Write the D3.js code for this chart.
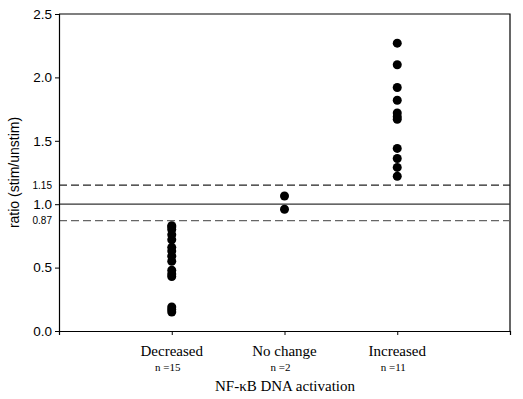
<!DOCTYPE html>
<html>
<head>
<meta charset="utf-8">
<script src="https://cdn.jsdelivr.net/npm/d3@7"></script>
<style>
  body { margin: 0; background: #fff; }
</style>
</head>
<body>
<div id="chart"></div>
<script>
// data
const categories = ["Decreased", "No change", "Increased"];
const counts = ["n =15", "n =2", "n =11"];
const decreased = [0.83, 0.82, 0.80, 0.76, 0.72, 0.66, 0.63, 0.59, 0.55, 0.48, 0.45, 0.43, 0.19, 0.17, 0.15];
const noChange = [1.065, 0.96];
const increased = [2.27, 2.10, 1.92, 1.82, 1.72, 1.69, 1.67, 1.44, 1.36, 1.29, 1.22];
const yTicks = [0, 0.5, 1.0, 1.5, 2.0, 2.5];
const thresholds = [1.15, 0.87];

const width = 523, height = 399;
const margin = {top: 14, right: 13, bottom: 68, left: 59};

const svg = d3.select("#chart")
  .append("svg")
  .attr("width", width)
  .attr("height", height);

const x = d3.scaleLinear()
  .domain([0, 4])
  .range([margin.left, width - margin.right]);

const y = d3.scaleLinear()
  .domain([0, 2.5])
  .range([height - margin.bottom, margin.top]);

// frame (top + right)
svg.append("path")
  .attr("d", `M${x(0)},${y(2.5)}H${x(4)}V${y(0)}`)
  .attr("fill", "none")
  .attr("stroke", "#000")
  .attr("stroke-width", 1.2);

// reference lines
svg.append("line")
  .attr("x1", x(0)).attr("x2", x(4))
  .attr("y1", y(1)).attr("y2", y(1))
  .attr("stroke", "#333").attr("stroke-width", 1.2);

svg.selectAll(".thresh")
  .data(thresholds)
  .join("line")
  .attr("class", "thresh")
  .attr("x1", x(0)).attr("x2", x(4))
  .attr("y1", d => y(d)).attr("y2", d => y(d))
  .attr("stroke", (d, i) => i === 0 ? "#222" : "#666")
  .attr("stroke-width", 1.3)
  .attr("stroke-dasharray", "8,4");

// axes
const yAxis = d3.axisLeft(y)
  .tickValues(yTicks)
  .tickFormat(d3.format(".1f"))
  .tickSize(4)
  .tickPadding(3);

svg.append("g")
  .attr("transform", `translate(${x(0)},0)`)
  .call(yAxis)
  .call(g => g.select(".domain").attr("stroke-width", 1.2))
  .call(g => g.selectAll("text")
    .attr("font-family", "Liberation Sans, Arial, sans-serif")
    .attr("font-size", 13.5)
    .attr("fill", "#000"));

// the two threshold labels
svg.selectAll(".thresh-label")
  .data(thresholds)
  .join("text")
  .attr("class", "thresh-label")
  .attr("x", x(0) - 7)
  .attr("y", d => y(d))
  .attr("dy", "0.35em")
  .attr("text-anchor", "end")
  .attr("font-family", "Liberation Sans, Arial, sans-serif")
  .attr("font-size", 10)
  .text(d => d.toFixed(2));

const xAxis = d3.axisBottom(x)
  .tickValues([1, 2, 3])
  .tickFormat("")
  .tickSize(4);

svg.append("g")
  .attr("transform", `translate(0,${y(0)})`)
  .call(xAxis)
  .call(g => g.select(".domain").attr("stroke-width", 1.2));

// category labels
svg.selectAll(".cat")
  .data(categories)
  .join("text")
  .attr("class", "cat")
  .attr("x", (d, i) => x(i + 1))
  .attr("y", 356)
  .attr("text-anchor", "middle")
  .attr("font-family", "Liberation Serif, Times New Roman, serif")
  .attr("font-size", 15)
  .text(d => d);

svg.selectAll(".cnt")
  .data(counts)
  .join("text")
  .attr("class", "cnt")
  .attr("x", (d, i) => x(i + 1) - 4)
  .attr("y", 371)
  .attr("text-anchor", "middle")
  .attr("font-family", "Liberation Serif, Times New Roman, serif")
  .attr("font-size", 11)
  .text(d => d);

svg.append("text")
  .attr("x", 285)
  .attr("y", 391)
  .attr("text-anchor", "middle")
  .attr("font-family", "Liberation Serif, Times New Roman, serif")
  .attr("font-size", 15)
  .text("NF-\u03BAB DNA activation");

svg.append("text")
  .attr("transform", `translate(19,${(y(0) + y(2.5)) / 2}) rotate(-90)`)
  .attr("text-anchor", "middle")
  .attr("font-family", "Liberation Sans, Arial, sans-serif")
  .attr("font-size", 14)
  .text("ratio (stim/unstim)");

// points
const groups = [decreased, noChange, increased];
groups.forEach((vals, i) => {
  svg.append("g")
    .selectAll("circle")
    .data(vals)
    .join("circle")
    .attr("cx", x(i + 1))
    .attr("cy", d => y(d))
    .attr("r", 4.5)
    .attr("fill", "#000");
});
</script>
</body>
</html>
